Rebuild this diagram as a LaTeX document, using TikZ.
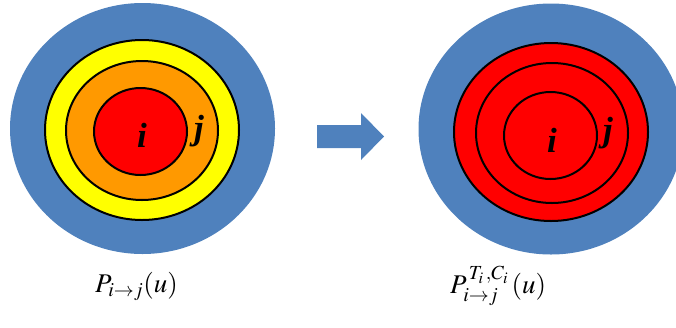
\documentclass[tikz,border=0pt]{standalone}
\usepackage{mathptmx}
\usepackage{fontspec}
\setmainfont{Liberation Serif}
\usetikzlibrary{shapes.geometric}
\definecolor{ringblue}{HTML}{4F81BD}
\definecolor{ringyellow}{HTML}{FFFF00}
\definecolor{ringorange}{HTML}{FF9900}
\definecolor{ringred}{HTML}{FF0000}
\tikzset{
  ring/.style={draw=black, line width=2pt},
  letter/.style={inner sep=0pt, font=\fontsize{35}{37}\selectfont\bfseries\itshape},
  formula/.style={inner sep=0pt, anchor=base west, font=\fontsize{27}{31}\selectfont}
}
\begin{document}
\begin{tikzpicture}[x=1pt,y=-1pt]
\useasboundingbox (0,0) rectangle (676,327);
\clip (0,0) rectangle (676,327);
% left target
\fill[ringblue] (142.5,128.5) ellipse [x radius=132.5, y radius=125.5];
\filldraw[ring, fill=ringyellow] (142,130) ellipse [x radius=97, y radius=90];
\filldraw[ring, fill=ringorange] (142,130.5) ellipse [x radius=76, y radius=69.5];
\filldraw[ring, fill=ringred] (140.5,131.5) ellipse [x radius=46.5, y radius=43.5];
\node[letter] (li) at (142,135) {i};
\node[letter] (lj) at (199,131) {j};
% arrow
\fill[ringblue] (317,125) -- (361,125) -- (361,113) -- (384,136.5) -- (361,160) -- (361,148) -- (317,148) -- cycle;
% right target
\fill[ringblue] (551,129) ellipse [x radius=132.5, y radius=125.5];
\filldraw[ring, fill=ringred] (551,132) ellipse [x radius=97, y radius=89];
\filldraw[ring, fill=ringred] (552,133) ellipse [x radius=76, y radius=70];
\filldraw[ring, fill=ringred] (550.5,135.5) ellipse [x radius=46.5, y radius=43.5];
\node[letter] (ri) at (552,140) {i};
\node[letter] (rj) at (608,133) {j};
% formulas
\node[formula] (lf) at (95,292) {$P_{i\rightarrow j}(u)$};
\node[formula] (rf) at (450,293) {$P_{i\rightarrow j}^{\,T_i\,,C_i}\,(u)$};
\end{tikzpicture}
\end{document}
